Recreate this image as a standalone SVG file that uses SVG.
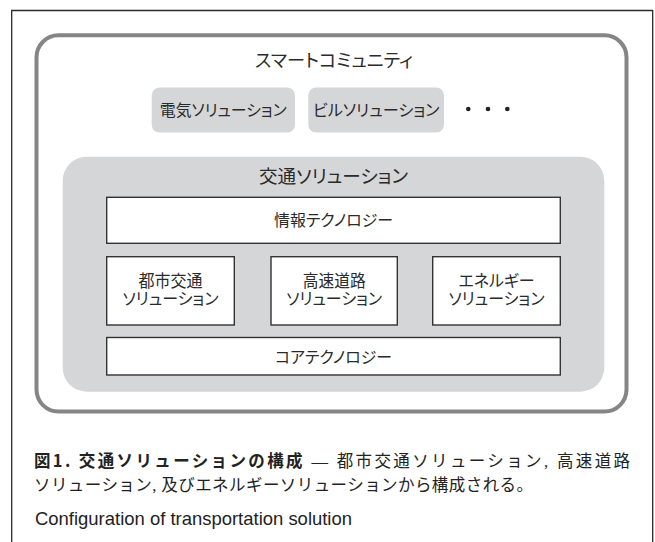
<svg xmlns="http://www.w3.org/2000/svg" width="655" height="542" viewBox="0 0 655 542">
<style>
.jp{font-family:"Noto Sans CJK JP","Noto Sans",sans-serif;fill:#2a2a2a;text-anchor:middle;font-feature-settings:"palt"}
.wbox{fill:#ffffff;stroke:#333;stroke-width:1.4}
.gbox{fill:#d5d6d7}
.cap{font-family:"Liberation Serif","Noto Sans CJK JP",serif;fill:#222;font-size:16.5px}
.capb{font-family:"Noto Sans CJK JP",sans-serif;font-weight:bold;fill:#222;font-size:16.5px}
</style>
<rect width="655" height="542" fill="#ffffff"/>
<path d="M11.7,542 V10.5 H652.7 V542" fill="none" stroke="#2a2a2a" stroke-width="1.3"/>
<g id="smart-community">
<rect x="36.5" y="35.3" width="590" height="376.2" rx="22" fill="#ffffff" stroke="#858585" stroke-width="4"/>
<text class="jp" x="334" y="67.3" font-size="18" textLength="158" lengthAdjust="spacingAndGlyphs">スマートコミュニティ</text>
</g>
<g id="electric">
<rect class="gbox" x="151.7" y="87.5" width="143.3" height="45" rx="8"/>
<text class="jp" x="223.3" y="116" font-size="16" textLength="127" lengthAdjust="spacingAndGlyphs">電気ソリューション</text>
</g>
<g id="building">
<rect class="gbox" x="308.3" y="87.5" width="135.7" height="45" rx="8"/>
<text class="jp" x="376.2" y="116" font-size="16" textLength="126.6" lengthAdjust="spacingAndGlyphs">ビルソリューション</text>
</g>
<g id="ellipsis" fill="#222">
<circle cx="468.3" cy="109" r="2.3"/>
<circle cx="488" cy="109" r="2.3"/>
<circle cx="507.3" cy="109" r="2.3"/>
</g>
<g id="transport">
<rect class="gbox" x="62.7" y="156.7" width="541.6" height="235" rx="24"/>
<text class="jp" x="333.5" y="183" font-size="18.5" textLength="149" lengthAdjust="spacingAndGlyphs">交通ソリューション</text>
</g>
<g id="info-tech">
<rect class="wbox" x="106.7" y="197.3" width="453.6" height="46"/>
<text class="jp" x="333.5" y="226.4" font-size="16" textLength="119" lengthAdjust="spacingAndGlyphs">情報テクノロジー</text>
</g>
<g id="urban">
<rect class="wbox" x="106.7" y="256.7" width="127.6" height="68.3"/>
<text class="jp" font-size="16.5"><tspan x="170.5" y="287.3" textLength="64" lengthAdjust="spacingAndGlyphs">都市交通</tspan><tspan x="170.5" y="304.8" textLength="96" lengthAdjust="spacingAndGlyphs">ソリューション</tspan></text>
</g>
<g id="highway">
<rect class="wbox" x="271" y="256.7" width="126.3" height="68.3"/>
<text class="jp" font-size="16.5"><tspan x="334.2" y="287.3" textLength="63" lengthAdjust="spacingAndGlyphs">高速道路</tspan><tspan x="334.2" y="304.8" textLength="96" lengthAdjust="spacingAndGlyphs">ソリューション</tspan></text>
</g>
<g id="energy">
<rect class="wbox" x="432.7" y="256.7" width="127.6" height="68.3"/>
<text class="jp" font-size="16.5"><tspan x="496.5" y="287.3" textLength="76" lengthAdjust="spacingAndGlyphs">エネルギー</tspan><tspan x="496.5" y="304.8" textLength="96" lengthAdjust="spacingAndGlyphs">ソリューション</tspan></text>
</g>
<g id="core-tech">
<rect class="wbox" x="106.7" y="337.5" width="453.6" height="37.5"/>
<text class="jp" x="333.5" y="362.6" font-size="16" textLength="117" lengthAdjust="spacingAndGlyphs">コアテクノロジー</text>
</g>
<g id="connectors"/>
<g id="caption">
<text x="34" y="467" textLength="596" lengthAdjust="spacing"><tspan class="capb">図1. 交通ソリューションの構成</tspan><tspan class="cap"> — 都市交通ソリューション, 高速道路</tspan></text>
<text class="cap" x="34" y="491" textLength="499" lengthAdjust="spacing">ソリューション, 及びエネルギーソリューションから構成される。</text>
<text x="35" y="525" font-family="Liberation Sans, Arial, sans-serif" font-size="19" fill="#222" textLength="317" lengthAdjust="spacingAndGlyphs">Configuration of transportation solution</text>
</g>
</svg>
